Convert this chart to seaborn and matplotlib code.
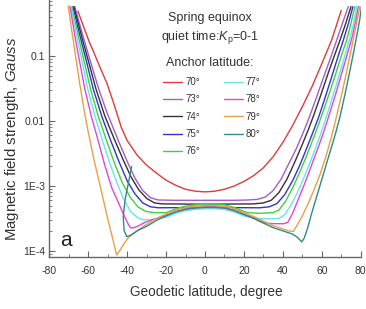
import numpy as np
import pandas as pd
import matplotlib
matplotlib.use("Agg")
import matplotlib.pyplot as plt
import seaborn as sns
from matplotlib.ticker import FixedLocator, FixedFormatter, LogLocator, MultipleLocator, NullFormatter
from matplotlib.lines import Line2D

# Anchor latitudes (degrees) of the field lines
anchors = ["70°", "73°", "74°", "75°", "76°", "77°", "78°", "79°", "80°"]
colors = ["#e23a3a", "#a55cc8", "#333333", "#3333cc", "#3fd23f",
          "#66e6ea", "#e046e0", "#e8a048", "#2f8a8a"]

# Geodetic latitude (deg) and log10 of field strength (Gauss)
lat_70 = [-65.3, -62, -59.5, -57.6, -54, -50.4, -47, -43, -40, -35, -30, -25, -20, -15, -10, -5, 0, 5, 10, 15, 20, 25, 30, 35, 40, 45, 50, 55, 60, 65, 70]
lgB_70 = [-0.31, -0.58, -0.78, -0.91, -1.17, -1.42, -1.72, -2.10, -2.30, -2.52, -2.68, -2.80, -2.91, -2.99, -3.05, -3.08, -3.09, -3.08, -3.05, -3.00, -2.93, -2.84, -2.72, -2.55, -2.33, -2.07, -1.78, -1.47, -1.12, -0.76, -0.30]

lat_73 = [-66.9, -64.5, -62.1, -58.5, -54.7, -50.5, -47, -44, -40, -36, -32, -28, -24, -15, 0, 15, 22, 27, 31, 35, 39, 43, 47, 50, 53, 57, 61, 64.5, 67.7, 70.7, 73.6]
lgB_73 = [-0.24, -0.50, -0.754, -1.12, -1.50, -1.86, -2.12, -2.34, -2.62, -2.88, -3.07, -3.18, -3.215, -3.22, -3.22, -3.22, -3.215, -3.205, -3.17, -3.07, -2.90, -2.66, -2.42, -2.21, -1.99, -1.66, -1.32, -1.03, -0.754, -0.49, -0.24]

lat_74 = [-67.4, -65.1, -62.9, -59.5, -56.1, -51.5, -47, -42, -38, -34, -30, -26, -22, 0, 25, 30, 34, 38, 42, 46, 50, 53, 56, 59.5, 63, 66.3, 69.4, 72.3, 75]
lgB_74 = [-0.24, -0.50, -0.754, -1.12, -1.50, -1.92, -2.25, -2.60, -2.86, -3.06, -3.19, -3.26, -3.275, -3.28, -3.275, -3.26, -3.22, -3.10, -2.90, -2.64, -2.36, -2.14, -1.90, -1.60, -1.29, -1.01, -0.754, -0.50, -0.24]

lat_75 = [-67.9, -65.8, -63.7, -60.6, -57.5, -53, -48.6, -44, -40, -36, -32, -28, -24, 0, 28, 33, 37, 41, 45, 49, 52.5, 55.5, 58.4, 61.5, 64.8, 68, 71.1, 73.8, 76]
lgB_75 = [-0.24, -0.50, -0.754, -1.12, -1.50, -1.93, -2.29, -2.64, -2.92, -3.12, -3.26, -3.32, -3.335, -3.33, -3.335, -3.32, -3.27, -3.13, -2.92, -2.66, -2.40, -2.17, -1.94, -1.66, -1.35, -1.04, -0.754, -0.49, -0.24]

lat_76 = [-68.4, -66.5, -64.6, -61.8, -58.9, -54.8, -50.7, -46.5, -42.5, -38.5, -34.5, -30.5, -26, -22, -20, -15, -10, -5, 0, 5, 10, 15, 20, 22, 28, 35, 38, 41.5, 45, 48.5, 52, 55.5, 58.5, 61.5, 64.5, 67.5, 70.2, 72.8, 75, 77]
lgB_76 = [-0.24, -0.50, -0.754, -1.12, -1.50, -1.93, -2.29, -2.65, -2.95, -3.17, -3.32, -3.39, -3.41, -3.41, -3.41, -3.35, -3.31, -3.29, -3.28, -3.28, -3.29, -3.33, -3.39, -3.41, -3.42, -3.41, -3.37, -3.23, -3.03, -2.80, -2.55, -2.28, -2.04, -1.78, -1.52, -1.24, -0.98, -0.754, -0.50, -0.24]

lat_77 = [-68.9, -67.2, -65.5, -62.9, -60.3, -56.5, -52.8, -48.8, -45, -41.5, -38, -34.5, -31.5, -28, -25, -20, -15, -10, -5, 0, 5, 10, 15, 20, 25, 27, 33, 38, 41, 44, 47.5, 51, 54.5, 58, 61, 64, 67, 70, 72.5, 74.5, 76.5, 78]
lgB_77 = [-0.24, -0.50, -0.754, -1.12, -1.50, -1.93, -2.29, -2.66, -2.97, -3.22, -3.40, -3.49, -3.52, -3.52, -3.50, -3.48, -3.42, -3.38, -3.36, -3.35, -3.35, -3.36, -3.40, -3.46, -3.49, -3.50, -3.505, -3.50, -3.44, -3.30, -3.10, -2.86, -2.60, -2.32, -2.06, -1.78, -1.49, -1.19, -0.93, -0.72, -0.48, -0.24]

lat_78 = [-69.4, -67.9, -66.5, -64.2, -61.8, -58.4, -55, -51.5, -48, -44.6, -41.5, -39.2, -38.2, -36.5, -34, -31, -28, -25, -20, -15, -10, -5, 0, 5, 10, 15, 20, 25, 30, 32, 37, 40.5, 42.5, 45, 48, 51.5, 55, 58.5, 61.5, 64.5, 67.5, 70.5, 73.3, 75.5, 77.3, 78.8]
lgB_78 = [-0.24, -0.50, -0.754, -1.12, -1.50, -1.93, -2.29, -2.68, -3.02, -3.25, -3.46, -3.60, -3.645, -3.64, -3.61, -3.56, -3.53, -3.50, -3.45, -3.39, -3.35, -3.33, -3.32, -3.32, -3.33, -3.37, -3.43, -3.49, -3.56, -3.575, -3.58, -3.58, -3.56, -3.42, -3.20, -2.94, -2.66, -2.38, -2.12, -1.84, -1.55, -1.24, -0.95, -0.72, -0.48, -0.24]

lat_79 = [-70.3, -68.5, -66.5, -64.5, -62.3, -60, -57, -53.5, -50, -47.5, -45.4, -43.5, -41.5, -39.5, -37, -34, -30, -25, -20, -15, -10, -5, 0, 5, 10, 15, 20, 25, 30, 35, 40, 43, 45.4, 47, 50, 53, 56, 59, 62, 65, 67.5, 70, 72.5, 75, 77.3, 79.6]
lgB_79 = [-0.23, -0.60, -1.00, -1.40, -1.80, -2.17, -2.60, -3.05, -3.50, -3.80, -4.06, -3.98, -3.88, -3.80, -3.73, -3.67, -3.59, -3.50, -3.43, -3.37, -3.33, -3.31, -3.30, -3.30, -3.31, -3.35, -3.41, -3.47, -3.54, -3.61, -3.66, -3.69, -3.70, -3.62, -3.46, -3.27, -3.06, -2.83, -2.56, -2.24, -1.94, -1.62, -1.28, -0.92, -0.58, -0.24]

lat_80 = [-37.7, -39.4, -41.1, -42.0, -41.6, -40.2, -37.7, -34.3, -30, -25, -20, -15, -10, -5, 0, 5, 10, 15, 20, 25, 30, 35, 40, 45, 47.5, 49.7, 51, 52.5, 55, 58, 61, 64, 67, 69.4, 72, 74.5, 76.5, 78.3, 79.5, 80.4]
lgB_80 = [-2.70, -2.96, -3.22, -3.47, -3.68, -3.78, -3.75, -3.68, -3.62, -3.53, -3.46, -3.40, -3.36, -3.34, -3.33, -3.33, -3.34, -3.38, -3.44, -3.50, -3.57, -3.64, -3.69, -3.74, -3.79, -3.86, -3.80, -3.67, -3.40, -3.10, -2.80, -2.50, -2.20, -1.93, -1.58, -1.22, -0.92, -0.64, -0.44, -0.24]

lats = [lat_70, lat_73, lat_74, lat_75, lat_76, lat_77, lat_78, lat_79, lat_80]
lgBs = [lgB_70, lgB_73, lgB_74, lgB_75, lgB_76, lgB_77, lgB_78, lgB_79, lgB_80]

ytick_vals = [1e-4, 1e-3, 1e-2, 1e-1]
ytick_labels = ["1E-4", "1E-3", "0.01", "0.1"]

rows = []
for name, la, lb in zip(anchors, lats, lgBs):
    for x, y in zip(la, lb):
        rows.append({"anchor": name, "lat": x, "B": 10.0 ** y})
df = pd.DataFrame(rows)

sns.set_style("ticks")
plt.rcParams["font.family"] = ["Liberation Sans", "DejaVu Sans"]
plt.rcParams["mathtext.fontset"] = "custom"
plt.rcParams["mathtext.rm"] = "Liberation Sans"
plt.rcParams["mathtext.it"] = "Liberation Sans:italic"
plt.rcParams["axes.unicode_minus"] = False

W, H = 366, 309
fig = plt.figure(figsize=(W / 100, H / 100), dpi=100)
ax = fig.add_axes([49.3 / W, 52 / H, 311.4 / W, 257 / H])

sns.lineplot(data=df, x="lat", y="B", hue="anchor", hue_order=anchors,
             palette=colors, sort=False, estimator=None, linewidth=1.0,
             ax=ax, legend=False)

ax.set_yscale("log")
ax.set_xlim(-80, 80)
ax.set_ylim(8.09e-5, 0.727)
ax.xaxis.set_major_locator(MultipleLocator(20))
ax.xaxis.set_minor_locator(MultipleLocator(10))
ax.yaxis.set_major_locator(FixedLocator(ytick_vals))
ax.yaxis.set_major_formatter(FixedFormatter(ytick_labels))
ax.yaxis.set_minor_locator(LogLocator(base=10, subs=np.arange(2, 10)))
ax.yaxis.set_minor_formatter(NullFormatter())

spine_c = "#666666"
for s in ["top", "right"]:
    ax.spines[s].set_visible(False)
for s in ["left", "bottom"]:
    ax.spines[s].set_color(spine_c)
    ax.spines[s].set_linewidth(1.0)
ax.tick_params(which="both", direction="in", color=spine_c, labelsize=7.5,
               labelcolor="#333333")
ax.tick_params(axis="x", which="both", pad=6.5)
ax.tick_params(axis="y", which="both", pad=3)
ax.tick_params(which="major", length=4)
ax.tick_params(which="minor", length=2)

ax.set_xlabel("Geodetic latitude, degree", fontsize=9.8, color="#333333")
ax.set_ylabel("Magnetic field strength, $\\mathit{Gauss}$", fontsize=10.8,
              color="#333333")
ax.xaxis.set_label_coords(0.505, -0.108)
ax.yaxis.set_label_coords(-0.092, 0.461)

fig.text(210 / W, 1 - 18 / H, "Spring equinox", ha="center", va="center",
         fontsize=9, color="#333333")
fig.text(210 / W, 1 - 38 / H, "quiet time:$\\mathit{K}_\\mathrm{p}$=0-1", ha="center",
         va="center", fontsize=9, color="#333333")
fig.text(210 / W, 1 - 63 / H, "Anchor latitude:", ha="center", va="center",
         fontsize=9, color="#333333")
fig.text(66 / W, 1 - 241 / H, "a", ha="center", va="center", fontsize=15,
         color="#222222")

handles = [Line2D([], [], color=c, lw=1.0) for c in colors]
ax.legend(handles, anchors, ncol=2, loc="upper left",
          bbox_to_anchor=(0.365, 0.70), frameon=False, fontsize=7,
          handlelength=2.0, handletextpad=0.3, columnspacing=2.4,
          labelspacing=0.75, borderpad=0, borderaxespad=0,
          labelcolor="#333333")

fig.savefig("out.png", dpi=100)
